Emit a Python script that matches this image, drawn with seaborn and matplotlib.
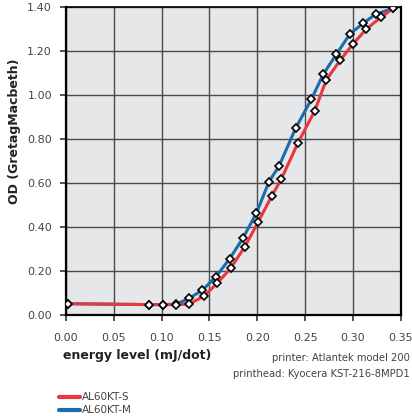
import matplotlib
matplotlib.use("Agg")
import matplotlib.pyplot as plt
from matplotlib.lines import Line2D
import pandas as pd
import seaborn as sns

# values
energy_s = [0.002, 0.087, 0.101, 0.1155, 0.129, 0.1444, 0.158, 0.172, 0.187, 0.2007,
            0.215, 0.225, 0.2425, 0.260, 0.272, 0.2868, 0.300, 0.314, 0.329, 0.342]
od_s = [0.050, 0.046, 0.046, 0.046, 0.049, 0.085, 0.143, 0.211, 0.310, 0.421,
        0.540, 0.617, 0.783, 0.928, 1.069, 1.160, 1.233, 1.301, 1.354, 1.395]

energy_m = [0.002, 0.087, 0.101, 0.1155, 0.129, 0.1427, 0.1566, 0.171, 0.185, 0.199,
            0.2122, 0.2227, 0.240, 0.2565, 0.269, 0.2826, 0.2965, 0.3104, 0.324, 0.342]
od_m = [0.050, 0.046, 0.046, 0.048, 0.075, 0.112, 0.173, 0.254, 0.349, 0.462,
        0.606, 0.677, 0.849, 0.981, 1.096, 1.186, 1.277, 1.327, 1.369, 1.395]

series_names = ["AL60KT-S", "AL60KT-M"]
colors = {"AL60KT-S": "#e8383d", "AL60KT-M": "#1a6dab"}
x_ticks = [0.00, 0.05, 0.10, 0.15, 0.20, 0.25, 0.30, 0.35]
y_ticks = [0.00, 0.20, 0.40, 0.60, 0.80, 1.00, 1.20, 1.40]

df = pd.concat([
    pd.DataFrame({"energy": energy_s, "od": od_s, "paper": "AL60KT-S"}),
    pd.DataFrame({"energy": energy_m, "od": od_m, "paper": "AL60KT-M"}),
])

sns.set_style("white", {"axes.facecolor": "#e6e7e9"})
plt.rcParams["font.family"] = ["DejaVu Sans"]

fig = plt.figure(figsize=(4.12, 4.16), dpi=100)
ax = fig.add_axes([0.160, 0.2435, 0.813, 0.739])

# blue first so the red sits on top in the flat part
for name in ["AL60KT-M", "AL60KT-S"]:
    sub = df[df["paper"] == name]
    sns.lineplot(data=sub, x="energy", y="od", ax=ax, sort=False, color=colors[name],
                 lw=2.2, marker="D", markersize=4.3, markerfacecolor="white",
                 markeredgecolor="black", markeredgewidth=1.2, legend=False, zorder=3)

ax.set_xlim(0, 0.35)
ax.set_ylim(0, 1.40)
ax.set_xticks(x_ticks)
ax.set_yticks(y_ticks)
ax.set_xticklabels([f"{v:.2f}" for v in x_ticks])
ax.set_yticklabels([f"{v:.2f}" for v in y_ticks])
ax.grid(True, color="#4a4a4a", lw=1.0)
ax.set_axisbelow(True)
for s in ["left", "bottom", "right", "top"]:
    ax.spines[s].set_color("black")
    ax.spines[s].set_linewidth(1.6)
ax.spines["top"].set_linewidth(1.2)
ax.tick_params(axis="both", labelsize=8, colors="#333333", length=4, width=1.2,
               direction="out", left=True, bottom=True)
ax.tick_params(axis="x", pad=9)
ax.tick_params(axis="y", pad=6)
for lab in ax.get_xticklabels() + ax.get_yticklabels():
    lab.set_color("#444444")

ax.set_xlabel("")
ax.set_ylabel("OD (GretagMacbeth)", fontsize=9, fontweight="bold", color="#222222")
ax.yaxis.set_label_coords(-0.134, 0.598)
fig.text(63 / 412, 1 - 356 / 416, "energy level (mJ/dot)", fontsize=9, fontweight="bold",
         color="#222222", ha="left", va="center")
fig.text(410 / 412, 1 - 358 / 416, "printer: Atlantek model 200", fontsize=7.2,
         color="#444444", ha="right", va="center")
fig.text(410 / 412, 1 - 374 / 416, "printhead: Kyocera KST-216-8MPD1", fontsize=7.2,
         color="#444444", ha="right", va="center")

handles = [Line2D([], [], color=colors[n], lw=3) for n in series_names]
fig.legend(handles, series_names, loc="upper left", bbox_to_anchor=(54 / 412, 1 - 387 / 416),
           frameon=False, fontsize=7.5, handlelength=2.0, handletextpad=0.2,
           labelspacing=0.3, borderpad=0, labelcolor="#444444")

fig.savefig("out.png", dpi=100)
